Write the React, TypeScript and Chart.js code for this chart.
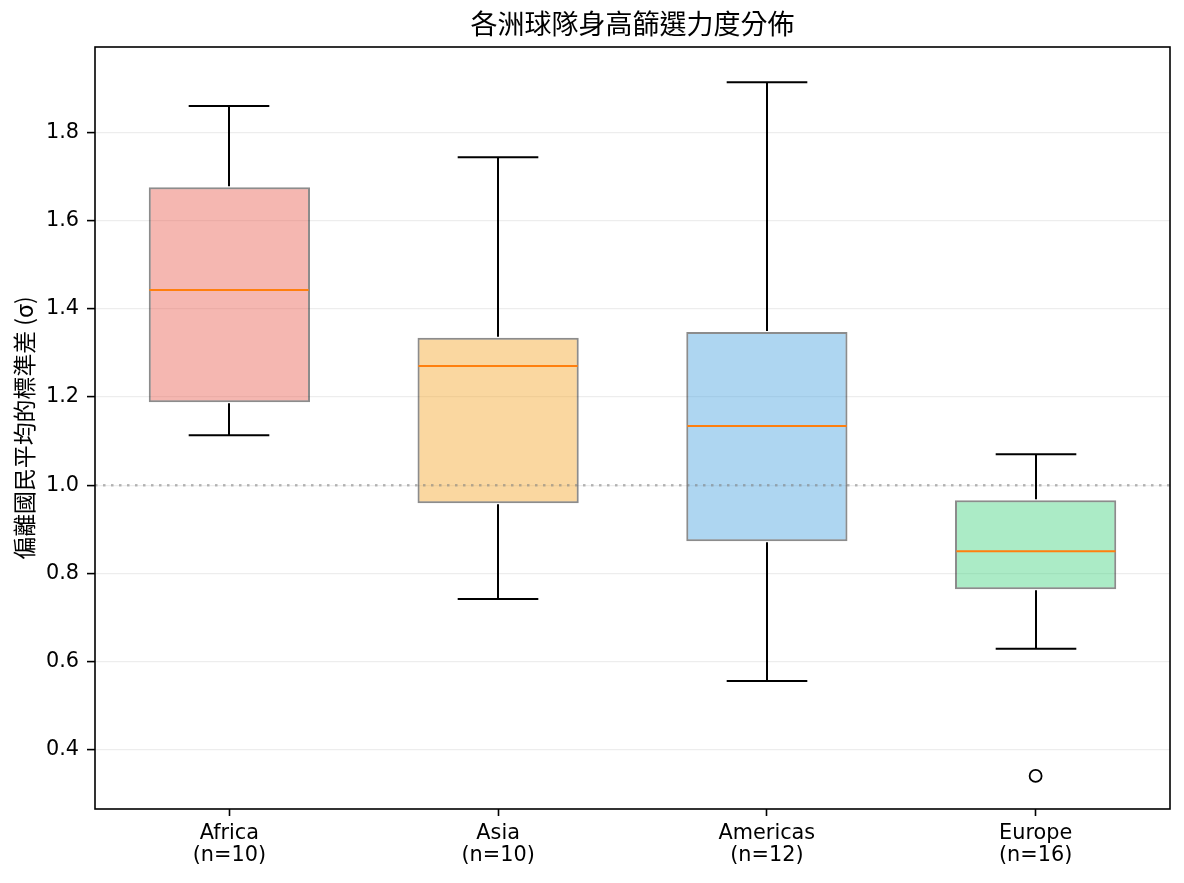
import React, { useEffect, useRef } from "react";
import { Chart, registerables } from "chart.js";

Chart.register(...registerables);

// Box-plot summary per continent (standard deviations from the national mean)
const CONTINENTS = ["Africa", "Asia", "Americas", "Europe"];
const COUNTS = [10, 10, 12, 16];
const WHISKER_LOW = [1.113, 0.742, 0.556, 0.629];
const Q1 = [1.188, 0.959, 0.873, 0.764];
const MEDIAN = [1.442, 1.27, 1.134, 0.85];
const Q3 = [1.675, 1.334, 1.347, 0.966];
const WHISKER_HIGH = [1.859, 1.743, 1.913, 1.07];
const OUTLIERS: (number | null)[] = [null, null, null, 0.341];
const Y_TICKS = [0.4, 0.6, 0.8, 1.0, 1.2, 1.4, 1.6, 1.8];
const REFERENCE_LINE = 1.0;
const Y_MIN = 0.266;
const Y_MAX = 1.993;
const TITLE = "各洲球隊身高篩選力度分佈";

const BOX_COLORS = [
  "rgba(231, 76, 60, 0.4)",
  "rgba(243, 156, 18, 0.4)",
  "rgba(52, 152, 219, 0.4)",
  "rgba(46, 204, 113, 0.4)",
];

const LATIN = "'DejaVu Sans', 'Noto Sans CJK TC', sans-serif";
const CJK = "'Noto Sans CJK TC', 'DejaVu Sans', sans-serif";

// Whiskers, caps, medians, reference line, frame and the title centred over the plot area
const boxDecor = {
  id: "boxDecor",
  afterDatasetsDraw(chart: any) {
    const { ctx, chartArea } = chart;
    const xs = chart.scales.x;
    const ys = chart.scales.y;
    const meta = chart.getDatasetMeta(0);
    ctx.save();

    CONTINENTS.forEach((_, i) => {
      const x = Math.round(xs.getPixelForValue(i));
      const bar = meta.data[i];
      const half = bar.width / 2;
      const cap = half / 2;
      const yLo = ys.getPixelForValue(WHISKER_LOW[i]);
      const yQ1 = ys.getPixelForValue(Q1[i]);
      const yQ3 = ys.getPixelForValue(Q3[i]);
      const yHi = ys.getPixelForValue(WHISKER_HIGH[i]);
      const yMed = ys.getPixelForValue(MEDIAN[i]);

      ctx.strokeStyle = "#000";
      ctx.lineWidth = 2;
      ctx.beginPath();
      ctx.moveTo(x, yQ1 + 1);
      ctx.lineTo(x, yLo);
      ctx.moveTo(x, yQ3 - 1);
      ctx.lineTo(x, yHi);
      ctx.moveTo(x - cap, yLo);
      ctx.lineTo(x + cap, yLo);
      ctx.moveTo(x - cap, yHi);
      ctx.lineTo(x + cap, yHi);
      ctx.stroke();

      ctx.strokeStyle = "#ff7f0e";
      ctx.lineWidth = 2;
      ctx.beginPath();
      ctx.moveTo(x - half + 1, yMed);
      ctx.lineTo(x + half - 1, yMed);
      ctx.stroke();
    });

    // dotted reference line
    const yRef = ys.getPixelForValue(REFERENCE_LINE);
    ctx.strokeStyle = "rgba(128,128,128,0.55)";
    ctx.lineWidth = 2.5;
    ctx.setLineDash([2.5, 5.5]);
    ctx.beginPath();
    ctx.moveTo(chartArea.left, yRef);
    ctx.lineTo(chartArea.right, yRef);
    ctx.stroke();
    ctx.setLineDash([]);

    ctx.strokeStyle = "#000";
    ctx.lineWidth = 1.6;
    ctx.strokeRect(
      chartArea.left,
      chartArea.top,
      chartArea.right - chartArea.left,
      chartArea.bottom - chartArea.top
    );

    ctx.fillStyle = "#000";
    ctx.font = `27px ${CJK}`;
    ctx.textAlign = "center";
    ctx.textBaseline = "middle";
    ctx.fillText(TITLE, (chartArea.left + chartArea.right) / 2, 24);
    ctx.restore();
  },
};

export default function App() {
  const canvasRef = useRef<HTMLCanvasElement | null>(null);

  useEffect(() => {
    document.body.style.margin = "0";
    const canvas = canvasRef.current;
    if (!canvas) return;

    const chart = new Chart(canvas, {
      type: "bar",
      data: {
        labels: CONTINENTS.map((c, i) => [c, `(n=${COUNTS[i]})`]),
        datasets: [
          {
            type: "bar",
            data: CONTINENTS.map((_, i) => [Q1[i], Q3[i]]) as any,
            backgroundColor: BOX_COLORS,
            borderColor: "rgba(0,0,0,0.45)",
            borderWidth: 2,
            borderSkipped: false,
            barPercentage: 0.6,
            categoryPercentage: 1,
            order: 2,
          },
          {
            type: "line",
            data: OUTLIERS as any,
            showLine: false,
            spanGaps: false,
            pointRadius: 6,
            pointBorderWidth: 1.8,
            pointBackgroundColor: "rgba(255,255,255,0)",
            pointBorderColor: "#000",
            order: 1,
          },
        ],
      },
      options: {
        responsive: false,
        animation: false,
        devicePixelRatio: 1,
        layout: { padding: { left: 0, right: 14, top: 47, bottom: 0 } },
        plugins: {
          legend: { display: false },
          tooltip: { enabled: false },
          title: { display: false },
        },
        scales: {
          x: {
            type: "category",
            offset: true,
            grid: {
              display: true,
              offset: false,
              drawOnChartArea: false,
              drawTicks: true,
              tickLength: 7,
              tickColor: "#000",
              tickWidth: 1.6,
            },
            border: { display: false },
            ticks: {
              color: "#000",
              font: { family: LATIN, size: 20.8, lineHeight: 1.08 },
              padding: 6,
              maxRotation: 0,
            },
            afterFit(scale: any) {
              scale.height = 74;
            },
          },
          y: {
            type: "linear",
            min: Y_MIN,
            max: Y_MAX,
            afterBuildTicks(scale: any) {
              scale.ticks = Y_TICKS.map((v) => ({ value: v }));
            },
            grid: {
              color: "rgba(0,0,0,0.07)",
              lineWidth: 1.2,
              tickLength: 8,
              tickColor: "#000",
              tickWidth: 1.6,
            },
            border: { display: false },
            ticks: {
              color: "#000",
              font: { family: LATIN, size: 20.8 },
              padding: 8,
              callback: (v: any) => Number(v).toFixed(1),
            },
            title: {
              display: true,
              text: "偏離國民平均的標準差 (σ)",
              color: "#000",
              font: { family: CJK, size: 22.9, lineHeight: 1.2 },
              padding: { top: 11, bottom: 0 },
            },
            afterFit(scale: any) {
              scale.width = 95;
            },
          },
        },
      },
      plugins: [boxDecor],
    } as any);

    return () => chart.destroy();
  }, []);

  return (
    <div style={{ position: "absolute", left: 0, top: 0, width: 1184, height: 883, background: "#fff" }}>
      <canvas ref={canvasRef} width={1184} height={883} />
    </div>
  );
}
